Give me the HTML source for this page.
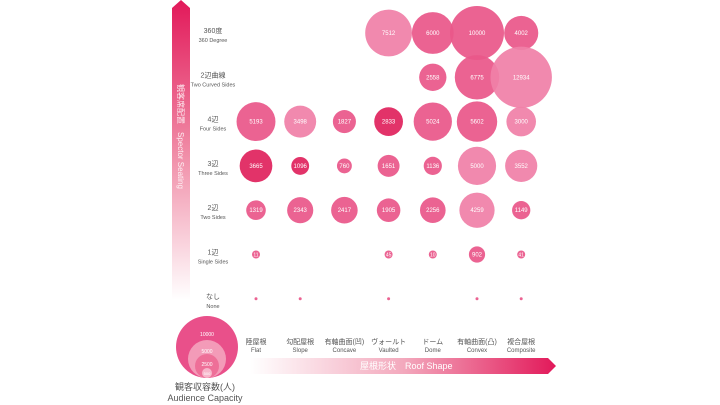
<!DOCTYPE html>
<html><head><meta charset="utf-8"><style>
body{margin:0;background:#fff;width:720px;height:405px;overflow:hidden}
svg{display:block;font-family:"Liberation Sans","Noto Sans CJK JP",sans-serif}
</style></head><body>
<svg id="c" width="720" height="405">
<defs>
<linearGradient id="vg" x1="0" y1="0" x2="0" y2="1"><stop offset="0" stop-color="#e2195a"/><stop offset="0.5" stop-color="#f08aa5"/><stop offset="1" stop-color="#fff"/></linearGradient>
<linearGradient id="hg" x1="0" y1="0" x2="1" y2="0"><stop offset="0" stop-color="#fff"/><stop offset="0.5" stop-color="#f3a9bd"/><stop offset="1" stop-color="#e2195a"/></linearGradient>
</defs>
<g>
<polygon points="172,8 181,0 190,8 190,300 172,300" fill="url(#vg)"/>
<text transform="translate(178,84) rotate(90)" font-size="8" fill="#fff" fill-opacity="0.85">観客席配置　Spector Seating</text>
</g>
<g>
<polygon points="250,358 548,358 556,366 548,374 250,374" fill="url(#hg)"/>
<text x="360" y="369" font-size="9" fill="#fff">屋根形状　Roof Shape</text>
</g>
<g id="bubbles"></g>
<g id="labels"></g>
<g>
<circle cx="207" cy="347" r="31" fill="#e9508a"/>
<circle cx="207" cy="359" r="19" fill="#f39bb8"/>
<circle cx="207" cy="366" r="12" fill="#ee6f98"/>
<circle cx="207" cy="373" r="5" fill="#f7b5ca"/>
<text x="207" y="336" font-size="5" fill="#fff" text-anchor="middle">10000</text>
<text x="207" y="353" font-size="5" fill="#fff" text-anchor="middle">5000</text>
<text x="207" y="366" font-size="5" fill="#fff" text-anchor="middle">2500</text>
<text x="207" y="375" font-size="4" fill="#fff" text-anchor="middle">500</text>
<text x="205" y="390" font-size="9" fill="#555" text-anchor="middle">観客収容数(人)</text>
<text x="205" y="401" font-size="9" fill="#555" text-anchor="middle">Audience Capacity</text>
</g>
</svg>
<script>
const columns=["Flat","Slope","Concave","Vaulted","Dome","Convex","Composite"];
const columnsJP=["陸屋根","勾配屋根","有軸曲面(凹)","ヴォールト","ドーム","有軸曲面(凸)","複合屋根"];
const rows=["360 Degree","Two Curved Sides","Four Sides","Three Sides","Two Sides","Single Sides","None"];
const rowsJP=["360度","2辺曲線","4辺","3辺","2辺","1辺","なし"];
// null = no bubble, 0 = dot
const v360=[null,null,null,7512,6000,10000,4002];
const vCurved=[null,null,null,null,2558,6775,12934];
const vFour=[5193,3498,1827,2833,5024,5602,3000];
const vThree=[3665,1096,760,1651,1136,5000,3552];
const vTwo=[1319,2343,2417,1905,2256,4259,1149];
const vOne=[11,null,null,45,10,902,41];
const vNone=[0,0,null,0,null,0,0];
const shade=[
[0,0,0,2,1,1,1],[0,0,0,0,1,1,2],[1,2,1,0,1,1,2],[0,0,1,1,1,2,2],[1,1,1,1,1,2,1],[1,1,1,1,1,1,1],[1,1,1,1,1,1,1]];
const series=[v360,vCurved,vFour,vThree,vTwo,vOne,vNone];
const colors=["#e0245e","#e9578a","#f080a8"];
const xAt=i=>256+i*44.2;
const yAt=j=>33+j*44.3;
const rOf=v=>v===0?1.5:Math.max(4,0.27*Math.sqrt(v));
const NS="http://www.w3.org/2000/svg";
const g=document.getElementById('bubbles');
series.forEach((arr,j)=>arr.forEach((v,i)=>{
 if(v===null)return;
 const c=document.createElementNS(NS,'circle');
 
 
 c.setAttribute('cx',xAt(i));c.setAttribute('cy',yAt(j));c.setAttribute('r',rOf(v));
 c.setAttribute('fill',colors[shade[j][i]]);c.setAttribute('fill-opacity','0.93');
 g.appendChild(c);
 if(v>0){const t=document.createElementNS(NS,'text');
 
 
 t.setAttribute('x',xAt(i));t.setAttribute('y',yAt(j)+2);t.setAttribute('font-size',v<100?5:6);
 t.setAttribute('fill','#fff');t.setAttribute('text-anchor','middle');t.textContent=v;g.appendChild(t);}
}));
const L=document.getElementById('labels');
function txt(x,y,s,fs,name){const t=document.createElementNS(NS,'text');
 
 
 t.setAttribute('x',x);t.setAttribute('y',y);t.setAttribute('font-size',fs);t.setAttribute('fill','#555');t.setAttribute('text-anchor','middle');t.textContent=s;L.appendChild(t);}
rows.forEach((r,j)=>{txt(213,yAt(j),rowsJP[j],7,'row-label-jp');txt(213,yAt(j)+9,r,5.5,'row-label-en');});
columns.forEach((c,i)=>{txt(xAt(i),344,columnsJP[i],7,'column-label-jp');txt(xAt(i),352,c,6,'column-label-en');});
</script>
</body></html>
